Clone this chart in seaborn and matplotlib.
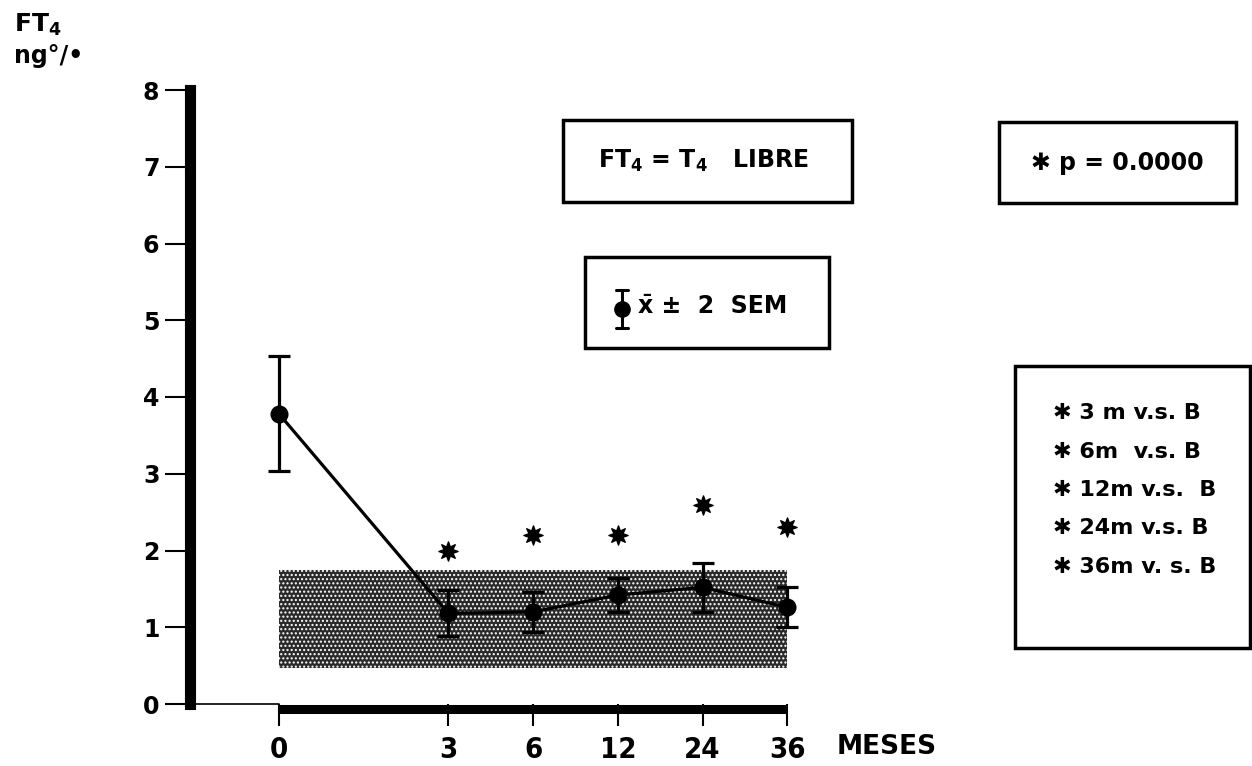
import matplotlib
matplotlib.use("Agg")
import matplotlib.pyplot as plt
from matplotlib.patches import Rectangle
from matplotlib.lines import Line2D
from matplotlib.transforms import offset_copy
import pandas as pd
import seaborn as sns

# ---- data -------------------------------------------------------------
months = ["0", "3", "6", "12", "24", "36"]          # x tick labels (meses)
slot = [0, 2, 3, 4, 5, 6]                           # horizontal slot of each month
ft4_mean = [3.78, 1.18, 1.20, 1.42, 1.52, 1.26]     # FT4 mean, ng%
ft4_sem2 = [0.75, 0.30, 0.26, 0.22, 0.32, 0.26]     # 2 SEM
signif_y = [2.00, 2.20, 2.20, 2.59, 2.31]           # asterisk heights (3..36 m)
normal_range = [0.47, 1.75]                          # shaded normal range
y_ticks = [0, 1, 2, 3, 4, 5, 6, 7, 8]
comparisons = ["3 m v.s. B", "6m  v.s. B", "12m v.s.  B", "24m v.s. B", "36m v. s. B"]

# ---- style ------------------------------------------------------------
sns.set_theme(style="white")
plt.rcParams["font.family"] = ["DejaVu Sans"]
plt.rcParams["font.weight"] = "bold"
plt.rcParams["mathtext.fontset"] = "dejavusans"
plt.rcParams["mathtext.default"] = "bf"
plt.rcParams["hatch.linewidth"] = 1.0
for key in ["text.color", "axes.labelcolor", "xtick.color", "ytick.color"]:
    plt.rcParams[key] = "black"

W, H = 1252, 766
fig = plt.figure(figsize=(W / 100, H / 100), dpi=100)
fig.patch.set_facecolor("white")


def fx(px):
    return px / W


def fy(py):
    return 1 - py / H


# axes: y axis at x=190 px, 0 at y=704 px, 8 at y=90 px
x_left, x_right = -1.051, 6.151
ax = fig.add_axes([fx(190), fy(704), fx(800) - fx(190), fy(90) - fy(704)])
ax.set_facecolor("white")
ax.set_xlim(x_left, x_right)
ax.set_ylim(0, 8)

# normal range band
ax.fill_between([slot[0], slot[-1]], normal_range[0], normal_range[1],
                facecolor="#2a2a2a", edgecolor="white", hatch="....",
                linewidth=0, zorder=1)

# mean line with markers, and error bars
df = pd.DataFrame({"slot": slot, "mean": ft4_mean, "err": ft4_sem2})
sns.lineplot(data=df, x="slot", y="mean", color="black", linewidth=2.3,
             marker="o", markersize=13, markeredgewidth=0, ax=ax, zorder=5)
ax.errorbar(df["slot"], df["mean"], yerr=df["err"], fmt="none", ecolor="black",
            elinewidth=2.3, capsize=8, capthick=2.3, zorder=5)

# significance asterisks (filled 8-point stars)
sns.scatterplot(x=slot[1:], y=signif_y, marker=(8, 1, 0), s=190, color="black",
                edgecolor="black", linewidth=1.0, ax=ax, zorder=6)

# axes styling
for side in ["top", "right", "bottom"]:
    ax.spines[side].set_visible(False)
ax.spines["left"].set_linewidth(8)
ax.spines["left"].set_color("black")
ax.set_yticks(y_ticks)
ax.set_yticklabels([str(v) for v in y_ticks])
ax.tick_params(axis="y", direction="out", length=18, width=1.5, color="black",
               pad=4, labelsize=17, left=True, labelcolor="black")
ax.set_xticks(slot)
ax.set_xticklabels(months)
ax.tick_params(axis="x", direction="out", length=16, width=1.5, color="black",
               pad=7, bottom=True, labelcolor="black")
for lab in ax.get_xticklabels():
    lab.set_fontfamily(["DejaVu Sans"])
    lab.set_fontstretch("condensed")
    lab.set_fontsize(21)
    lab.set_fontweight("bold")
for lab in ax.get_yticklabels():
    lab.set_fontweight("bold")
ax.set_xlabel("")
ax.set_ylabel("")
ax.grid(False)

# bottom axis: thin from the y axis to month 0, then thick bar
ax.plot([x_left, slot[0]], [0, 0], color="black", linewidth=1.2,
        clip_on=False, zorder=4)
bar_trans = offset_copy(ax.transData, fig=fig, x=0, y=-4.5, units="dots")
ax.plot([slot[0], slot[-1]], [0, 0], color="black", linewidth=6.5,
        solid_capstyle="butt", transform=bar_trans, clip_on=False, zorder=4)

fig.text(fx(837), fy(747), "MESES", ha="left", va="center", fontsize=19,
         fontweight="bold")

# y axis title
fig.text(fx(14), fy(25), "FT$_4$", ha="left", va="center", fontsize=18,
         fontweight="bold")
fig.text(fx(14), fy(56), "ng°/•", ha="left", va="center", fontsize=17,
         fontweight="bold")


def frame(x0, y0, x1, y1):
    fig.add_artist(Rectangle((fx(x0), fy(y1)), fx(x1) - fx(x0), fy(y0) - fy(y1),
                             transform=fig.transFigure, facecolor="white",
                             edgecolor="black", linewidth=2.5))


# definition box
frame(563, 120, 852, 202)
fig.text(fx(703), fy(161), "FT$_4$ = T$_4$   LIBRE", ha="center", va="center",
         fontsize=17, fontweight="bold")

# p-value box
frame(999, 122, 1236, 203)
fig.text(fx(1117), fy(163), "✱ p = 0.0000", ha="center", va="center",
         fontsize=17, fontweight="bold")

# mean ± 2 SEM key
frame(585, 257, 829, 348)
fig.add_artist(Line2D([fx(622), fx(622)], [fy(290), fy(328)], color="black",
                      linewidth=2.2, transform=fig.transFigure))
for cy in (290, 328):
    fig.add_artist(Line2D([fx(616), fx(628)], [fy(cy), fy(cy)], color="black",
                          linewidth=2.2, transform=fig.transFigure))
fig.add_artist(Line2D([fx(622)], [fy(309)], marker="o", markersize=11,
                      color="black", transform=fig.transFigure))
fig.text(fx(638), fy(306), "x̄ ±  2  SEM", ha="left", va="center",
         fontsize=17, fontweight="bold")

# comparisons box
frame(1015, 366, 1250, 648)
for i, row in enumerate(comparisons):
    fig.text(fx(1053), fy(413 + 38.5 * i), "✱ " + row, ha="left", va="center",
             fontsize=16, fontweight="bold")

fig.savefig("out.png", dpi=100, facecolor="white")
